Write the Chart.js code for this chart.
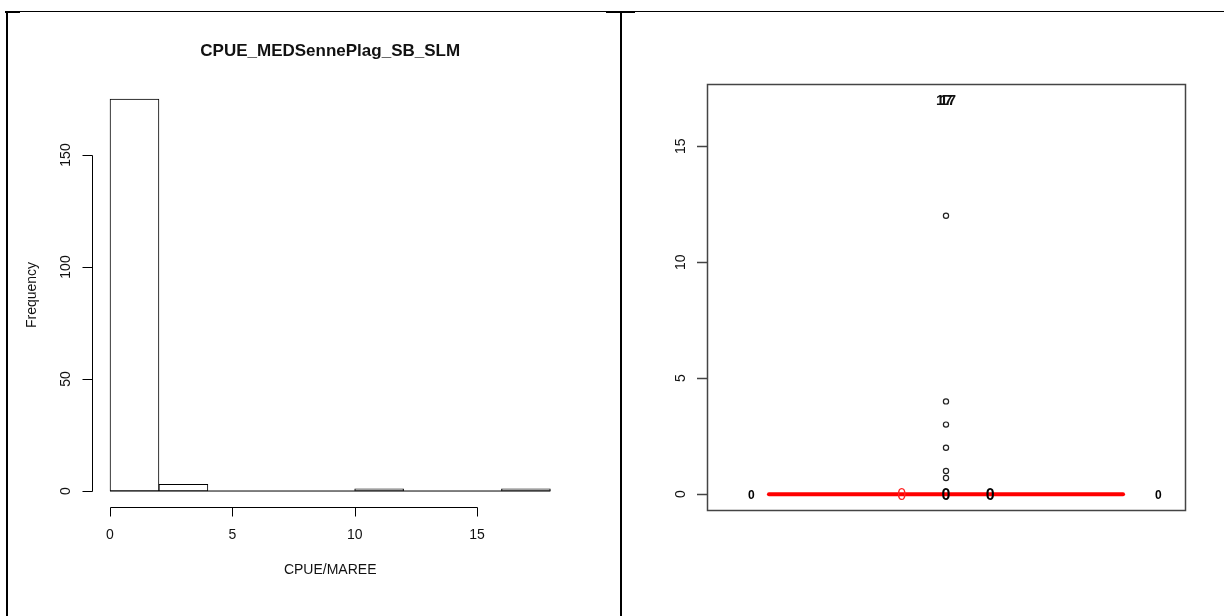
<!DOCTYPE html>
<html>
<head>
<meta charset="utf-8">
<script src="https://cdn.jsdelivr.net/npm/chart.js@4/dist/chart.umd.min.js"></script>
<style>
  html, body { margin: 0; padding: 0; background: #ffffff; }
  #wrap { position: relative; width: 1224px; height: 616px; overflow: hidden; background: #fff; }
  canvas { position: absolute; left: 0; top: 0; }
  .ln { position: absolute; background: #000; }
</style>
</head>
<body>
<div id="wrap">
  <canvas id="hist" width="1224" height="616"></canvas>
  <canvas id="dots" width="1224" height="616"></canvas>
  <div class="ln" style="left:5px; top:11px; width:1219px; height:1px;"></div>
  <div class="ln" style="left:5px; top:11px; width:15px; height:2px;"></div>
  <div class="ln" style="left:606px; top:11px; width:29px; height:2px;"></div>
  <div class="ln" style="left:6px; top:11px; width:2px; height:605px;"></div>
  <div class="ln" style="left:620px; top:11px; width:2px; height:605px;"></div>
</div>
<script>
// ---------------- data ----------------
const histTitle = "CPUE_MEDSennePlag_SB_SLM";
const histXLabel = "CPUE/MAREE";
const histYLabel = "Frequency";
const histBreaks = [0, 2, 4, 6, 8, 10, 12, 14, 16, 18];
const histCounts = [175, 3, 0, 0, 0, 1, 0, 0, 1];
const histXTicks = [0, 5, 10, 15];
const histYTicks = [0, 50, 100, 150];

const dotX = [50, 50, 50, 50, 50, 50];
const dotY = [12, 4, 3, 2, 1, 0.7];
const topLabelX = [49.6, 50.4];
const topLabelY = [17, 17];
const topLabelText = ["17", "17"];
const zeroLabelX = [6, 40, 50, 60, 98];
const zeroLabelY = [0, 0, 0, 0, 0];
const zeroLabelText = ["0", "0", "0", "0", "0"];
const redLineX = [10, 90];
const redLineY = [0, 0];
const dotYTicks = [0, 5, 10, 15];

// ---------------- helpers ----------------
const FONT = '"Liberation Sans", Arial, sans-serif';
const INK = '#111';
function txt(ctx, s, x, y, font, color, rot) {
  ctx.save();
  ctx.translate(x, y);
  if (rot) ctx.rotate(rot);
  ctx.font = font;
  ctx.fillStyle = color;
  ctx.textAlign = 'center';
  ctx.textBaseline = 'middle';
  ctx.fillText(s, 0, 0);
  ctx.restore();
}

// ---------------- histogram ----------------
const binCenters = histCounts.map((c, i) => ({ x: (histBreaks[i] + histBreaks[i + 1]) / 2, y: c }));
const baseLine = [{ x: histBreaks[0], y: 0 }, { x: histBreaks[histBreaks.length - 1], y: 0 }];

const histAxes = {
  id: 'histAxes',
  afterDraw(chart) {
    const ctx = chart.ctx, xs = chart.scales.x, ys = chart.scales.y, ca = chart.chartArea;
    ctx.save();
    ctx.strokeStyle = '#000';
    ctx.lineWidth = 1;
    // x axis
    const ay = Math.round(ca.bottom) + 0.5;
    const x0 = xs.getPixelForValue(histXTicks[0]), x1 = xs.getPixelForValue(histXTicks[histXTicks.length - 1]);
    ctx.beginPath();
    ctx.moveTo(Math.round(x0) + 0.5, ay); ctx.lineTo(Math.round(x1) + 0.5, ay);
    histXTicks.forEach(v => { const p = Math.round(xs.getPixelForValue(v)) + 0.5; ctx.moveTo(p, ay); ctx.lineTo(p, ay + 9); });
    ctx.stroke();
    histXTicks.forEach(v => txt(ctx, String(v), xs.getPixelForValue(v), ay + 28, '14px ' + FONT, INK));
    // y axis
    const ax = Math.round(ca.left) + 0.5;
    const y0 = ys.getPixelForValue(histYTicks[0]), y1 = ys.getPixelForValue(histYTicks[histYTicks.length - 1]);
    ctx.beginPath();
    ctx.moveTo(ax, Math.round(y0) + 0.5); ctx.lineTo(ax, Math.round(y1) + 0.5);
    histYTicks.forEach(v => { const p = Math.round(ys.getPixelForValue(v)) + 0.5; ctx.moveTo(ax, p); ctx.lineTo(ax - 10, p); });
    ctx.stroke();
    histYTicks.forEach(v => txt(ctx, String(v), ax - 26, ys.getPixelForValue(v), '14px ' + FONT, INK, -Math.PI / 2));
    // titles
    const cx = (ca.left + ca.right) / 2;
    txt(ctx, histTitle, cx, 51, 'bold 17px ' + FONT, INK);
    txt(ctx, histXLabel, cx, 570, '14px ' + FONT, INK);
    txt(ctx, histYLabel, 32, (ca.top + ca.bottom) / 2, '14px ' + FONT, INK, -Math.PI / 2);
    ctx.restore();
  }
};

new Chart(document.getElementById('hist'), {
  type: 'bar',
  data: {
    datasets: [
      {
        type: 'bar',
        data: binCenters,
        backgroundColor: '#ffffff',
        borderColor: '#000000',
        borderWidth: 1,
        borderSkipped: false,
        barPercentage: 1,
        categoryPercentage: 1
      },
      {
        type: 'line',
        data: baseLine,
        borderColor: '#000000',
        borderWidth: 1,
        pointRadius: 0,
        fill: false
      }
    ]
  },
  options: {
    responsive: false,
    animation: false,
    devicePixelRatio: 1,
    layout: { padding: { left: 92.4, right: 656, top: 83.3, bottom: 109.3 } },
    plugins: { legend: { display: false }, title: { display: false }, tooltip: { enabled: false } },
    events: [],
    scales: {
      x: { type: 'linear', display: false, offset: false, min: -0.72, max: 18.72 },
      y: { type: 'linear', display: false, min: -7, max: 182 }
    }
  },
  plugins: [histAxes]
});

// ---------------- dot panel ----------------
const dotPoints = dotX.map((x, i) => ({ x, y: dotY[i] }));
const redPoints = redLineX.map((x, i) => ({ x, y: redLineY[i] }));
const zeroStyle = [
  { font: 'bold 12px ' + FONT, color: '#000' },
  { font: '16px ' + FONT, color: '#ff2020' },
  { font: 'bold 16px ' + FONT, color: '#000' },
  { font: 'bold 16px ' + FONT, color: '#000' },
  { font: 'bold 12px ' + FONT, color: '#000' }
];

const dotAxes = {
  id: 'dotAxes',
  afterDraw(chart) {
    const ctx = chart.ctx, xs = chart.scales.x, ys = chart.scales.y, ca = chart.chartArea;
    ctx.save();
    // box
    ctx.strokeStyle = '#444';
    ctx.lineWidth = 1.5;
    ctx.strokeRect(Math.round(ca.left) + 0.5, Math.round(ca.top) + 0.5, Math.round(ca.right - ca.left), Math.round(ca.bottom - ca.top));
    // y ticks
    ctx.beginPath();
    dotYTicks.forEach(v => { const p = Math.round(ys.getPixelForValue(v)) + 0.5; ctx.moveTo(ca.left, p); ctx.lineTo(ca.left - 10, p); });
    ctx.stroke();
    dotYTicks.forEach(v => txt(ctx, String(v), ca.left - 26, ys.getPixelForValue(v), '14px ' + FONT, INK, -Math.PI / 2));
    // labels
    topLabelText.forEach((s, i) => txt(ctx, s, xs.getPixelForValue(topLabelX[i]), ys.getPixelForValue(topLabelY[i]) + 1.5, 'bold 15px ' + FONT, '#111'));
    zeroLabelText.forEach((s, i) => txt(ctx, s, xs.getPixelForValue(zeroLabelX[i]), ys.getPixelForValue(zeroLabelY[i]) + 1.5, zeroStyle[i].font, zeroStyle[i].color));
    ctx.restore();
  }
};

new Chart(document.getElementById('dots'), {
  type: 'scatter',
  data: {
    datasets: [
      {
        data: redPoints,
        showLine: true,
        borderColor: '#ff0000',
        borderWidth: 4,
        borderCapStyle: 'round',
        pointRadius: 0,
        fill: false
      },
      {
        data: dotPoints,
        pointStyle: 'circle',
        pointRadius: 2.6,
        pointBorderWidth: 1.2,
        pointBorderColor: '#222',
        pointBackgroundColor: 'rgba(0,0,0,0)'
      }
    ]
  },
  options: {
    responsive: false,
    animation: false,
    devicePixelRatio: 1,
    layout: { padding: { left: 707, right: 39, top: 84, bottom: 106 } },
    plugins: { legend: { display: false }, title: { display: false }, tooltip: { enabled: false } },
    events: [],
    scales: {
      x: { type: 'linear', display: false, min: -4, max: 104 },
      y: { type: 'linear', display: false, min: -0.68, max: 17.68 }
    }
  },
  plugins: [dotAxes]
});
</script>
</body>
</html>
